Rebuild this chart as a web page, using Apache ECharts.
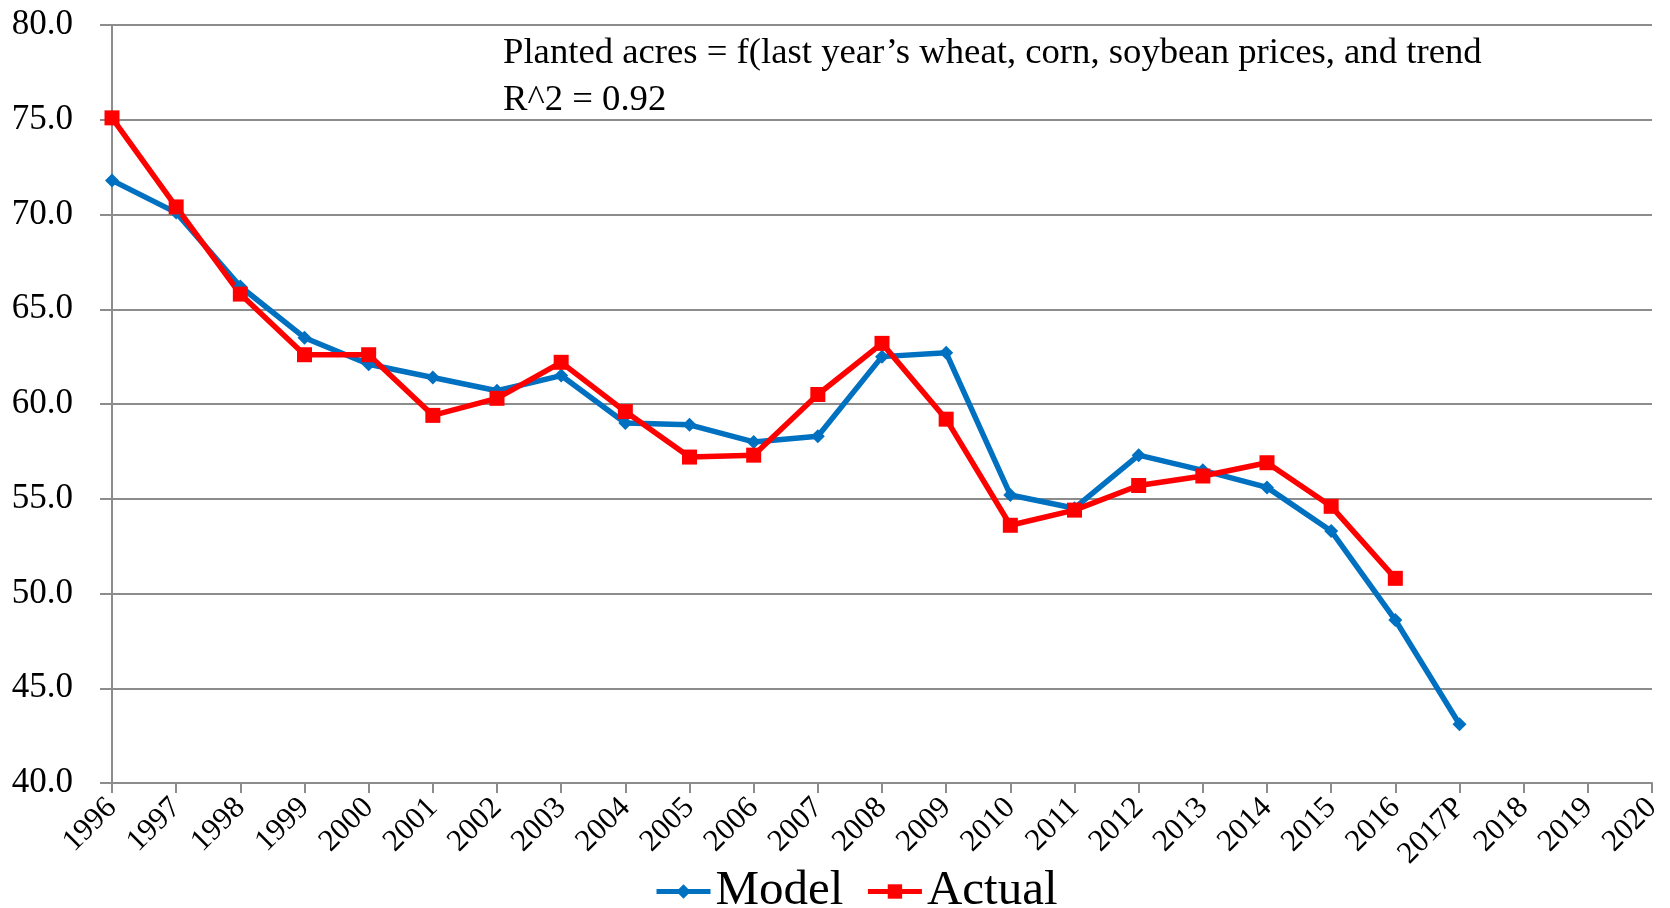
<!DOCTYPE html>
<html>
<head>
<meta charset="utf-8">
<script src="https://cdn.jsdelivr.net/npm/echarts@6/dist/echarts.min.js"></script>
<style>
  html, body { margin: 0; padding: 0; background: #fff; }
  #chart { width: 1670px; height: 908px; }
</style>
</head>
<body>
<div id="chart"></div>
<script>
// years on the x axis (2017 is a projection)
const years = ['1996', '1997', '1998', '1999', '2000', '2001', '2002', '2003', '2004', '2005',
  '2006', '2007', '2008', '2009', '2010', '2011', '2012', '2013', '2014', '2015',
  '2016', '2017P', '2018', '2019', '2020']
const model = [71.8, 70.1, 66.2, 63.5, 62.1, 61.4, 60.7, 61.5, 59.0, 58.9,
  58.0, 58.3, 62.5, 62.7, 55.2, 54.5, 57.3, 56.5, 55.6, 53.3,
  48.6, 43.1, null, null, null]
const actual = [75.1, 70.4, 65.8, 62.6, 62.6, 59.4, 60.3, 62.2, 59.6, 57.2,
  57.3, 60.5, 63.2, 59.2, 53.6, 54.4, 55.7, 56.2, 56.9, 54.6,
  50.8, null, null, null, null]
const noteLines = [
  'Planted acres = f(last year\u2019s wheat, corn, soybean prices, and trend',
  'R^2 = 0.92'
]

const serif = "'Liberation Serif', 'DejaVu Serif', serif"
const gridGray = '#8c8c8c'

let option = {
  animation: false,
  backgroundColor: '#fff',
  textStyle: { fontFamily: serif },
  grid: {
    left: 112,
    right: 18,
    top: 25,
    bottom: 125,
    containLabel: false
  },
  legend: {
    left: 654,
    top: 867,
    padding: 0,
    itemWidth: 54,
    itemHeight: 18,
    itemGap: 22,
    lineStyle: { width: 5 },
    textStyle: { fontSize: 49, color: '#000', fontFamily: serif },
    data: ['Model', 'Actual']
  },
  graphic: [
    { type: 'text', left: 503, top: 35, style: { text: noteLines[0], fontSize: 36.7, fontFamily: serif, fill: '#000' } },
    { type: 'text', left: 503, top: 82, style: { text: noteLines[1], fontSize: 36.7, fontFamily: serif, fill: '#000' } }
  ],
  xAxis: {
    type: 'category',
    boundaryGap: false,
    data: years,
    axisLine: { lineStyle: { color: gridGray, width: 2 } },
    axisTick: { show: true, length: 10, lineStyle: { color: gridGray, width: 2 } },
    axisLabel: {
      interval: 0,
      rotate: 45,
      margin: 20,
      fontSize: 31,
      color: '#000',
      fontFamily: serif
    },
    splitLine: { show: false }
  },
  yAxis: {
    type: 'value',
    min: 40,
    max: 80,
    interval: 5,
    axisLine: { show: true, lineStyle: { color: gridGray, width: 2 } },
    axisTick: { show: true, length: 12, lineStyle: { color: gridGray, width: 2 } },
    axisLabel: {
      margin: 39,
      fontSize: 35,
      color: '#000',
      fontFamily: serif,
      formatter: (v) => v.toFixed(1)
    },
    splitLine: { show: true, lineStyle: { color: gridGray, width: 2 } }
  },
  series: [{
    name: 'Model',
    type: 'line',
    data: model,
    symbol: 'diamond',
    symbolSize: 14,
    showAllSymbol: true,
    lineStyle: { color: '#0070c0', width: 5.5 },
    itemStyle: { color: '#0070c0' }
  }, {
    name: 'Actual',
    type: 'line',
    data: actual,
    symbol: 'rect',
    symbolSize: 15,
    showAllSymbol: true,
    lineStyle: { color: '#ff0000', width: 5.5 },
    itemStyle: { color: '#ff0000' }
  }]
}

let myChart = echarts.init(document.getElementById('chart'))
myChart.setOption(option)
</script>
</body>
</html>
